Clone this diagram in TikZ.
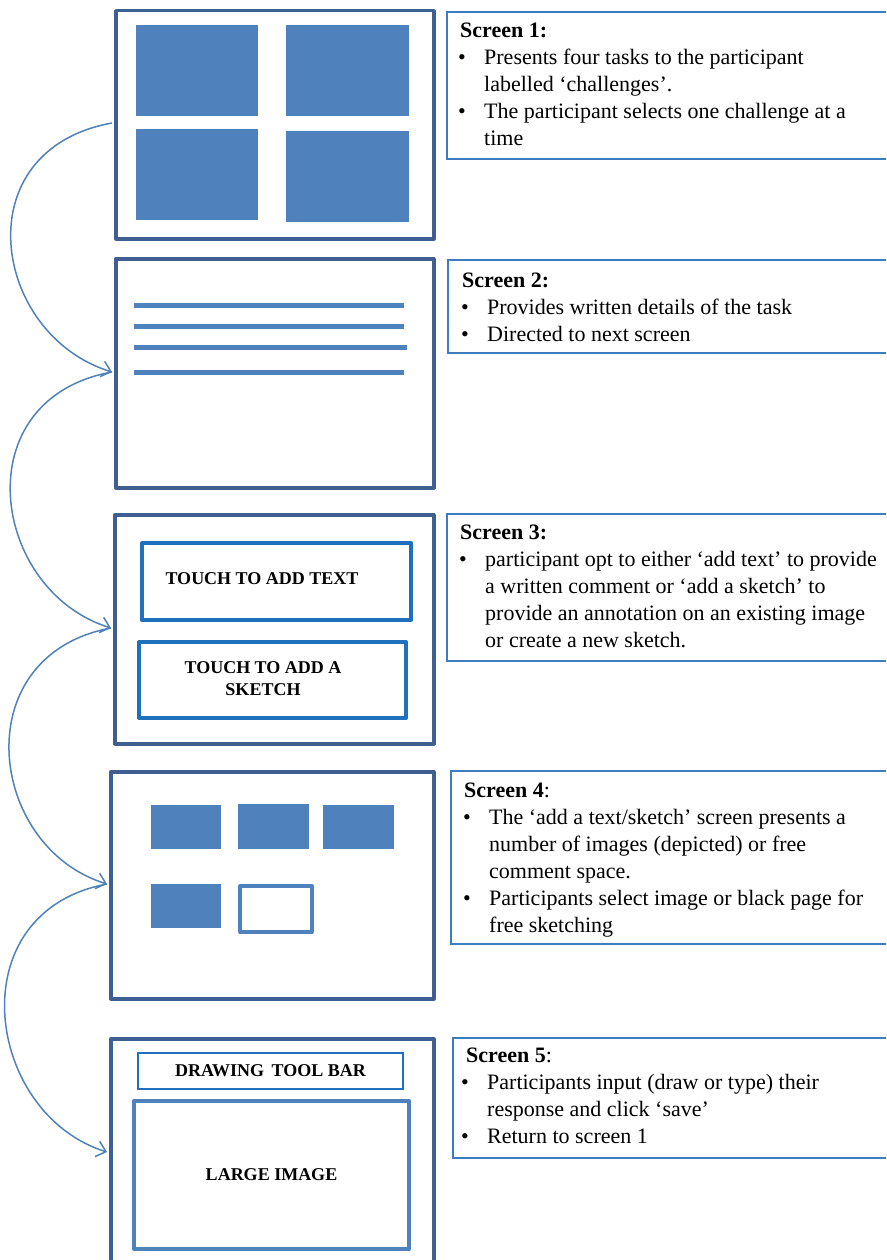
\documentclass[tikz,border=0pt]{standalone}
\usepackage{fontspec}
\setmainfont{Liberation Serif}
\usepackage{tikz}
\usetikzlibrary{calc,arrows.meta}
\definecolor{framecol}{HTML}{3E5F8F}
\definecolor{tilecol}{HTML}{4F81BD}
\definecolor{notecol}{HTML}{3C7DC1}
\definecolor{btncol}{HTML}{1F70BE}
\tikzstyle{screen} = [draw=framecol, line width=3.5pt, rectangle, inner sep=0pt, anchor=north west, line join=round]
\tikzstyle{tile} = [fill=tilecol, inner sep=0pt, anchor=north west]
\tikzstyle{hollowtile} = [draw=tilecol, line width=4pt, inner sep=0pt, anchor=north west, line join=round]
\tikzstyle{notebox} = [draw=notecol, line width=2pt, inner sep=0pt, anchor=north west]
\tikzstyle{notetext} = [inner sep=0pt, anchor=north west, align=left, font=\fontsize{22}{27}\selectfont]
\tikzstyle{button} = [draw=btncol, line width=4pt, inner sep=0pt, anchor=north west, line join=round]
\tikzstyle{capslabel} = [inner sep=0pt, align=center, font=\fontsize{18}{22}\selectfont\bfseries]
\tikzstyle{textbar} = [tilecol, line width=5pt]
\tikzstyle{flow} = [tilecol, line width=1.5pt, -{Straight Barb[length=9pt,width=16pt]}]
\newcommand{\bl}{\makebox[26pt][l]{\textbullet}}
\newcommand{\ind}{\hspace*{26pt}}

\begin{document}
\begin{tikzpicture}[x=1pt, y=-1pt]

\useasboundingbox (0,0) rectangle (886,1260);
\clip (0,0) rectangle (886,1260);

% screen 1
\node[screen, minimum width=318, minimum height=228] (s1) at (114,9) {};
\node[tile, minimum width=122, minimum height=91] (s1a) at (136,25) {};
\node[tile, minimum width=123, minimum height=91] (s1b) at (286,25) {};
\node[tile, minimum width=122, minimum height=91] (s1c) at (136,129) {};
\node[tile, minimum width=123, minimum height=91] (s1d) at (286,131) {};

% screen 2
\node[screen, minimum width=318, minimum height=229] (s2) at (114,257) {};
\draw[textbar] (134,305) -- (404,305);
\draw[textbar] (134,326) -- (404,326);
\draw[textbar] (134,347) -- (407,347);
\draw[textbar] (134,372) -- (404,372);

% screen 3
\node[screen, minimum width=319, minimum height=229] (s3) at (113,513) {};
\node[button, minimum width=269, minimum height=77] (s3a) at (140,541) {};
\node[button, minimum width=267, minimum height=76] (s3b) at (137,640) {};
\node[capslabel, anchor=base] (l3a) at (262,584) {TOUCH TO ADD TEXT};
\node[capslabel, anchor=north] (l3b) at (263,657.6) {\strut TOUCH TO ADD A\\SKETCH};

% screen 4
\node[screen, minimum width=323, minimum height=227] (s4) at (109,770) {};
\node[tile, minimum width=70, minimum height=44] (s4a) at (151,805) {};
\node[tile, minimum width=71, minimum height=45] (s4b) at (238,804) {};
\node[tile, minimum width=71, minimum height=44] (s4c) at (323,805) {};
\node[tile, minimum width=70, minimum height=44] (s4d) at (151,884) {};
\node[hollowtile, minimum width=72, minimum height=46] (s4e) at (238,884) {};

% screen 5
\node[screen, minimum width=323, minimum height=243] (s5) at (109,1037) {};
\node[draw=btncol, line width=2pt, inner sep=0pt, anchor=north west, minimum width=265, minimum height=36, font=\fontsize{18}{22}\selectfont\bfseries] (s5a) at (137,1052) {DRAWING\, TOOL BAR};
\node[hollowtile, minimum width=275, minimum height=148, font=\fontsize{18}{22}\selectfont\bfseries] (s5b) at (132,1099) {LARGE IMAGE};

% notes
\node[notebox, minimum width=460, minimum height=147] (b1) at (446,11) {};
\node[notetext] (t1) at (458,18.9) {\strut\hspace*{2pt}\textbf{Screen 1:}\\
  \bl Presents four tasks to the participant\\
  \ind labelled ‘challenges’.\\
  \bl The participant selects one challenge at a\\
  \ind time};

\node[notebox, minimum width=460, minimum height=93] (b2) at (447,259) {};
\node[notetext] (t2) at (461,267.9) {\strut\hspace*{1pt}\textbf{Screen 2:}\\
  \bl Provides written details of the task\\
  \bl Directed to next screen};

\node[notebox, minimum width=460, minimum height=147] (b3) at (446,513) {};
\node[notetext] (t3) at (459,519.9) {\strut\hspace*{1pt}\textbf{Screen 3:}\\
  \bl participant opt to either ‘add text’ to provide\\
  \ind a written comment or ‘add a sketch’ to\\
  \ind provide an annotation on an existing image\\
  \ind or create a new sketch.};

\node[notebox, minimum width=460, minimum height=173] (b4) at (450,770) {};
\node[notetext] (t4) at (463,777.9) {\strut\hspace*{1pt}\textbf{Screen 4}:\\
  \bl The ‘add a text/sketch’ screen presents a\\
  \ind number of images (depicted) or free\\
  \ind comment space.\\
  \bl Participants select image or black page for\\
  \ind free sketching};

\node[notebox, minimum width=460, minimum height=120] (b5) at (452,1037) {};
\node[notetext] (t5) at (461,1042.9) {\strut\hspace*{5pt}\textbf{Screen 5}:\\
  \bl Participants input (draw or type) their\\
  \ind response and click ‘save’\\
  \bl Return to screen 1};

% flow between screens
\coordinate (p1) at (112,123);
\coordinate (p2) at (112,372);
\coordinate (p3) at (111,628);
\coordinate (p4) at (107,884);
\coordinate (p5) at (107,1152);

\draw[flow] (p1) .. controls ($(p1)+(-149,27)$) and ($(p2)+(-120,-37)$) .. (p2);
\draw[flow] (p2) .. controls ($(p2)+(-149,27)$) and ($(p3)+(-120,-37)$) .. (p3);
\draw[flow] (p3) .. controls ($(p3)+(-146,27)$) and ($(p4)+(-120,-37)$) .. (p4);
\draw[flow] (p4) .. controls ($(p4)+(-150,28)$) and ($(p5)+(-122,-38)$) .. (p5);

\end{tikzpicture}
\end{document}
